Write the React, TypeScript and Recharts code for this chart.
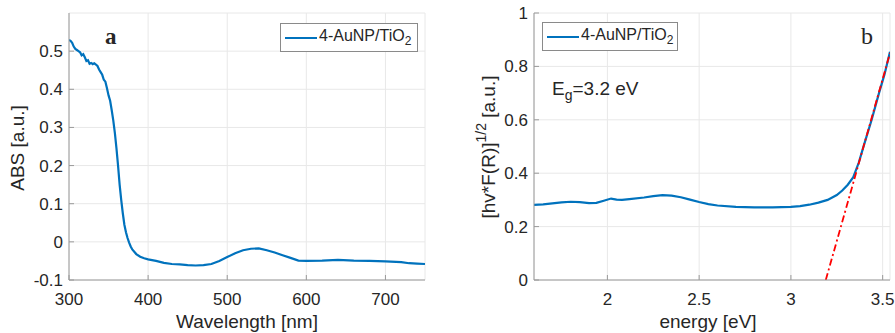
import { LineChart, Line, XAxis, YAxis, CartesianGrid, Label } from "recharts";

// panel a: UV-vis absorbance
const wavelength = [
  300, 302, 304, 306, 308, 310, 312, 314, 316, 318, 320, 322, 324, 326, 328, 330, 332, 334, 336, 338,
  340, 342, 344, 346, 348, 350, 352, 354, 356, 358, 360, 362, 364, 366, 368, 370, 372, 374, 376, 378,
  380, 385, 390, 395, 400, 410, 420, 430, 440, 450, 460, 470, 480, 490, 500, 510, 520, 530, 540, 550,
  560, 570, 580, 590, 600, 620, 640, 660, 680, 700, 720, 730, 740, 750,
];
const absorbance = [
  0.529, 0.527, 0.522, 0.512, 0.506, 0.503, 0.5, 0.497, 0.489, 0.492, 0.484, 0.474, 0.476, 0.467, 0.469,
  0.466, 0.468, 0.465, 0.461, 0.452, 0.445, 0.438, 0.425, 0.42, 0.403, 0.384, 0.37, 0.345, 0.318, 0.285,
  0.245, 0.2, 0.15, 0.11, 0.075, 0.045, 0.025, 0.01, -0.002, -0.012, -0.02, -0.032, -0.039, -0.043,
  -0.046, -0.05, -0.055, -0.058, -0.059, -0.061, -0.062, -0.061, -0.058, -0.05, -0.04, -0.03, -0.022,
  -0.018, -0.017, -0.022, -0.028, -0.035, -0.042, -0.049, -0.05, -0.049, -0.047, -0.049, -0.05, -0.051,
  -0.053, -0.056, -0.057, -0.058,
];
const absTicks = [-0.1, 0, 0.1, 0.2, 0.3, 0.4, 0.5];
const wlTicks = [300, 400, 500, 600, 700];

// panel b: Kubelka-Munk plot with band-gap tangent
const energy = [
  1.6, 1.65, 1.7, 1.75, 1.8, 1.85, 1.9, 1.94, 1.98, 2.02, 2.05, 2.08, 2.12, 2.2, 2.25, 2.3, 2.35, 2.4,
  2.45, 2.5, 2.55, 2.6, 2.7, 2.8, 2.9, 3.0, 3.05, 3.1, 3.15, 3.2, 3.25, 3.28, 3.31, 3.34, 3.37, 3.4,
  3.44, 3.48, 3.51, 3.54,
];
const kmValue = [
  0.281, 0.283, 0.287, 0.291, 0.293, 0.292, 0.288, 0.289, 0.297, 0.305, 0.301, 0.3, 0.303, 0.309, 0.314,
  0.318, 0.316, 0.31, 0.301, 0.292, 0.284, 0.279, 0.274, 0.272, 0.272, 0.274, 0.277, 0.282, 0.29, 0.3,
  0.318, 0.335, 0.357, 0.385, 0.44, 0.51, 0.6, 0.7, 0.77, 0.855,
];
const tangentEnergy = [3.19, 3.54];
const tangentValue = [0, 0.85];
const kmTicks = [0, 0.2, 0.4, 0.6, 0.8, 1];
const energyTicks = [2, 2.5, 3, 3.5];

const absData = wavelength.map((w, i) => ({ x: w, y: absorbance[i] }));
const kmData = energy.map((e, i) => ({ x: e, y: kmValue[i] }));
const tangentData = tangentEnergy.map((e, i) => ({ x: e, y: tangentValue[i] }));

const BLUE = "#0072BD";
const AXIS = "#9a9a9a";
const TEXT = "#262626";
const SANS = "'Liberation Sans', Arial, Helvetica, sans-serif";
const SERIF = "'Liberation Serif', 'Times New Roman', serif";

// ticks point inward, matlab style
const BottomTick = (p: any) => (
  <g>
    <line x1={p.x} y1={p.y} x2={p.x} y2={p.y - 5} stroke={AXIS} />
    <text x={p.x} y={p.y + 25} textAnchor="middle" fontSize={17} fill={TEXT} fontFamily={SANS}>
      {String(p.payload.value)}
    </text>
  </g>
);
const TopTick = (p: any) => <line x1={p.x} y1={p.y} x2={p.x} y2={p.y + 5} stroke={AXIS} />;
const LeftTick = (p: any) => (
  <g>
    <line x1={p.x} y1={p.y} x2={p.x + 5} y2={p.y} stroke={AXIS} />
    <text x={p.x - 6} y={p.y + 6} textAnchor="end" fontSize={17} fill={TEXT} fontFamily={SANS}>
      {String(p.payload.value)}
    </text>
  </g>
);
const RightTick = (p: any) => <line x1={p.x} y1={p.y} x2={p.x - 5} y2={p.y} stroke={AXIS} />;

const LegendBox = ({ left, top, width }: { left: number; top: number; width: number }) => (
  <div
    style={{
      position: "absolute",
      left,
      top,
      width,
      height: 29,
      border: "1px solid #8a8a8a",
      background: "#fff",
      boxSizing: "border-box",
      display: "flex",
      alignItems: "center",
      fontFamily: SANS,
      fontSize: 16,
      color: TEXT,
      whiteSpace: "nowrap",
    }}
  >
    <div style={{ width: 32, height: 2, background: BLUE, marginLeft: 4, marginRight: 2 }} />
    <span>
      4-AuNP/TiO<sub style={{ fontSize: 12 }}>2</sub>
    </span>
  </div>
);

export default function App() {
  return (
    <div style={{ position: "absolute", left: 0, top: 0, width: 895, height: 333, background: "#fff" }}>
      <div style={{ position: "absolute", left: 0, top: 0 }}>
        <LineChart width={445} height={333} data={absData} margin={{ top: 13, right: 20, bottom: 23, left: 19 }}>
          <CartesianGrid stroke="#e8e8e8" />
          <XAxis
            dataKey="x"
            type="number"
            domain={[300, 750]}
            ticks={wlTicks}
            allowDataOverflow
            height={30}
            stroke={AXIS}
            tickSize={0}
            tickMargin={0}
            tick={BottomTick}
          >
            <Label
              content={() => (
                <text x={247} y={328} textAnchor="middle" fontSize={19} fill={TEXT} fontFamily={SANS}>
                  Wavelength [nm]
                </text>
              )}
            />
          </XAxis>
          <XAxis
            xAxisId="top"
            orientation="top"
            dataKey="x"
            type="number"
            domain={[300, 750]}
            ticks={wlTicks}
            allowDataOverflow
            height={0}
            stroke={AXIS}
            tickSize={0}
            tick={TopTick}
          />
          <YAxis
            type="number"
            domain={[-0.1, 0.6]}
            ticks={absTicks}
            allowDataOverflow
            width={50}
            stroke={AXIS}
            tickSize={0}
            tickMargin={0}
            tick={LeftTick}
          >
            <Label
              content={() => (
                <text
                  transform="translate(24,148) rotate(-90)"
                  textAnchor="middle"
                  fontSize={19}
                  fill={TEXT}
                  fontFamily={SANS}
                >
                  ABS [a.u.]
                </text>
              )}
            />
          </YAxis>
          <YAxis
            yAxisId="right"
            orientation="right"
            type="number"
            domain={[-0.1, 0.6]}
            ticks={absTicks}
            allowDataOverflow
            width={0}
            stroke={AXIS}
            tickSize={0}
            tick={RightTick}
          />
          <Line
            dataKey="y"
            stroke={BLUE}
            strokeWidth={2.2}
            dot={false}
            type="linear"
            isAnimationActive={false}
          />
        </LineChart>
      </div>

      <div style={{ position: "absolute", left: 445, top: 0 }}>
        <LineChart width={450} height={333} margin={{ top: 13, right: 5, bottom: 23, left: 39 }}>
          <CartesianGrid stroke="#e8e8e8" />
          <XAxis
            dataKey="x"
            type="number"
            domain={[1.6, 3.54]}
            ticks={energyTicks}
            allowDataOverflow
            height={30}
            stroke={AXIS}
            tickSize={0}
            tickMargin={0}
            tick={BottomTick}
          >
            <Label
              content={() => (
                <text x={263} y={328} textAnchor="middle" fontSize={19} fill={TEXT} fontFamily={SANS}>
                  energy [eV]
                </text>
              )}
            />
          </XAxis>
          <XAxis
            xAxisId="top"
            orientation="top"
            dataKey="x"
            type="number"
            domain={[1.6, 3.54]}
            ticks={energyTicks}
            allowDataOverflow
            height={0}
            stroke={AXIS}
            tickSize={0}
            tick={TopTick}
          />
          <YAxis
            type="number"
            domain={[0, 1]}
            ticks={kmTicks}
            allowDataOverflow
            width={50}
            stroke={AXIS}
            tickSize={0}
            tickMargin={0}
            tick={LeftTick}
          >
            <Label
              content={() => (
                <text
                  transform="translate(50,147) rotate(-90)"
                  textAnchor="middle"
                  fontSize={19}
                  fill={TEXT}
                  fontFamily={SANS}
                >
                  [hv*F(R)]
                  <tspan dy={-9} fontSize={14}>
                    1/2
                  </tspan>
                  <tspan dy={9}> [a.u.]</tspan>
                </text>
              )}
            />
          </YAxis>
          <YAxis
            yAxisId="right"
            orientation="right"
            type="number"
            domain={[0, 1]}
            ticks={kmTicks}
            allowDataOverflow
            width={0}
            stroke={AXIS}
            tickSize={0}
            tick={RightTick}
          />
          <Line
            data={kmData}
            dataKey="y"
            stroke={BLUE}
            strokeWidth={2.2}
            dot={false}
            type="linear"
            isAnimationActive={false}
          />
          <Line
            data={tangentData}
            dataKey="y"
            stroke="#ff0000"
            strokeWidth={1.8}
            strokeDasharray="7 3 2 3"
            dot={false}
            type="linear"
            isAnimationActive={false}
          />
        </LineChart>
      </div>

      <LegendBox left={280} top={23} width={138} />
      <LegendBox left={542} top={22} width={136} />

      <div style={{ position: "absolute", left: 105, top: 24, fontFamily: SERIF, fontSize: 23, fontWeight: 600, color: TEXT }}>
        a
      </div>
      <div style={{ position: "absolute", left: 861, top: 23, fontFamily: SERIF, fontSize: 24, color: TEXT }}>
        b
      </div>
      <div style={{ position: "absolute", left: 552, top: 78, fontFamily: SANS, fontSize: 19, color: TEXT, whiteSpace: "nowrap" }}>
        E<sub style={{ fontSize: 14 }}>g</sub>=3.2 eV
      </div>
    </div>
  );
}
